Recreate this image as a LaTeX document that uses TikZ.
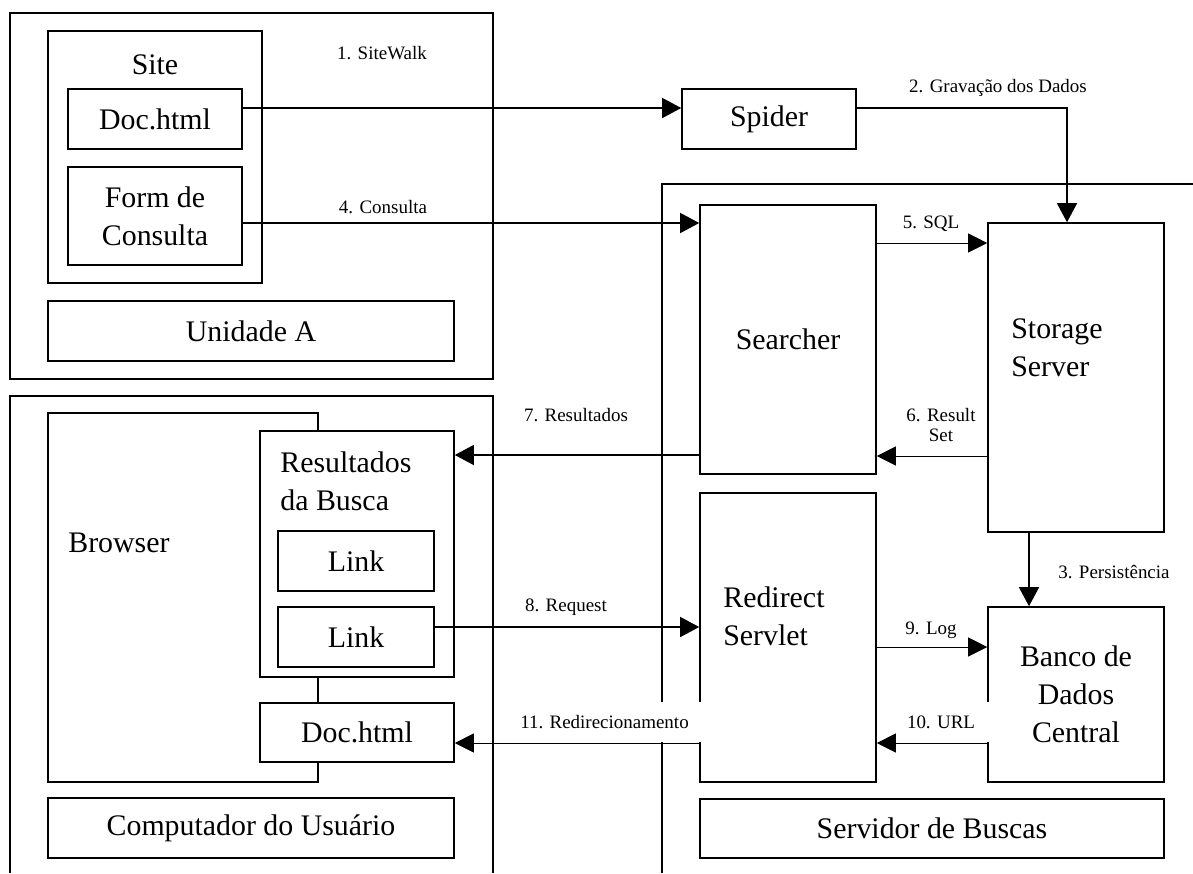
\documentclass[tikz,border=0pt]{standalone}
\usepackage{fontspec}
\setmainfont{Liberation Serif}
\usetikzlibrary{arrows.meta}
\newcommand\lblbig{\fontsize{17}{21.6}\selectfont}
\newcommand\lblsmall{\fontsize{10.8}{11.4}\selectfont}
\begin{document}
\begin{tikzpicture}[x=0.02cm, y=-0.02cm,
  frame/.style={draw, line width=0.9pt},
  box/.style 2 args={draw, line width=0.9pt, fill=white, inner sep=0pt,
    minimum width=#1*0.02cm, minimum height=#2*0.02cm, font=\lblbig, align=center},
  txt/.style={inner sep=0pt, font=\lblbig, align=left},
  tag/.style={inner sep=0pt, font=\lblsmall, align=center},
  whitetag/.style 2 args={fill=white, inner sep=0pt, font=\lblsmall,
    minimum width=#1*0.02cm, minimum height=#2*0.02cm},
  flow/.style={line width=0.75pt, -{Triangle[length=0.38cm,width=0.40cm]}},
  thinflow/.style={line width=0.4pt, -{Triangle[length=0.38cm,width=0.38cm]}},
]
\useasboundingbox (0,0) rectangle (1193,873);

% ---- Unidade A ----
\node[box={483}{366}] (unidA) at (251.5,196) {};
\node[box={214}{252}] (site) at (155,157) {};
\node[txt] (siteT) at (155,65) {Site};
\node[box={174}{60}] (doc1) at (155,119) {Doc.html};
\node[box={174}{98}] (form) at (155,216) {Form de\\Consulta};
\node[box={406}{60}] (unidAT) at (251,331) {Unidade A};

% ---- Computador do Usuario (open towards the bottom) ----
\draw[frame] (10,873) |- (493,396) -- (493,873);
\node[box={270}{369}] (browser) at (183,597.5) {};
\node[txt, anchor=west] (browserT) at (68,543) {Browser};
\node[box={194}{246}] (result) at (357,554) {};
\node[txt, anchor=west] (resultT) at (280,481.5) {Resultados\\da Busca};
\node[box={156}{60}] (link1) at (356,561) {Link};
\node[box={156}{60}] (link2) at (356,637) {Link};
\node[box={194}{59}] (doc2) at (357,732.5) {Doc.html};
\node[box={406}{60}] (compT) at (251,828) {Computador do Usuário};

% ---- Spider ----
\node[box={174}{60}] (spider) at (769,119) {Spider};

% ---- Servidor de Buscas (open towards right and bottom) ----
\draw[frame] (1193,184) -| (662,873);
\node[box={176}{269}] (searcher) at (788,339.5) {Searcher};
\node[box={176}{309}] (storage) at (1076,377.5) {};
\node[txt, anchor=west] (storageT) at (1011,348) {Storage\\Server};
\node[box={176}{289}] (redirect) at (788,637.5) {};
\node[txt, anchor=west] (redirectT) at (723,616) {Redirect\\Servlet};
\node[box={176}{175}] (banco) at (1076,694.5) {Banco de\\Dados\\Central};
\node[box={464}{59}] (servT) at (932,828.5) {Servidor de Buscas};

% ---- labels on white backing ----
\node[whitetag={193}{40}] (l11) at (604.5,722) {11. Redirecionamento};
\node[whitetag={96}{40}] (l10) at (941,722) {10. URL};

% ---- heights of the connectors ----
\coordinate (r1) at (0,108);
\coordinate (c2) at (1067,108);
\coordinate (c3) at (1029,0);
\coordinate (r4) at (0,223);
\coordinate (r5) at (0,243);
\coordinate (r6) at (0,456);
\coordinate (r7) at (0,455);
\coordinate (r8) at (0,627);
\coordinate (r9) at (0,647);
\coordinate (r10) at (0,743);

% ---- connectors ----
\draw[flow] (doc1.east |- r1) -- (spider.west |- r1);
\draw[flow] (spider.east |- c2) -| (c2 |- storage.north);
\draw[flow] (c3 |- storage.south) -- (c3 |- banco.north);
\draw[flow] (form.east |- r4) -- (searcher.west |- r4);
\draw[thinflow] (searcher.east |- r5) -- (storage.west |- r5);
\draw[thinflow] (storage.west |- r6) -- (searcher.east |- r6);
\draw[flow] (searcher.west |- r7) -- (result.east |- r7);
\draw[flow] (link2.east |- r8) -- (redirect.west |- r8);
\draw[thinflow] (redirect.east |- r9) -- (banco.west |- r9);
\draw[thinflow] (banco.west |- r10) -- (redirect.east |- r10);
\draw[thinflow] (redirect.west |- r10) -- (doc2.east |- r10);

% ---- connector labels ----
\node[tag] (l1) at (382,53) {1. SiteWalk};
\node[tag] (l2) at (998,88) {2. Gravação dos Dados};
\node[tag] (l3) at (1114,572) {3. Persistência};
\node[tag] (l4) at (383,207) {4. Consulta};
\node[tag] (l5) at (931,224) {5. SQL};
\node[tag] (l6) at (941,425) {6. Result\\Set};
\node[tag] (l7) at (576,415) {7. Resultados};
\node[tag] (l8) at (566,607) {8. Request};
\node[tag] (l9) at (931,630) {9. Log};
\end{tikzpicture}
\end{document}
